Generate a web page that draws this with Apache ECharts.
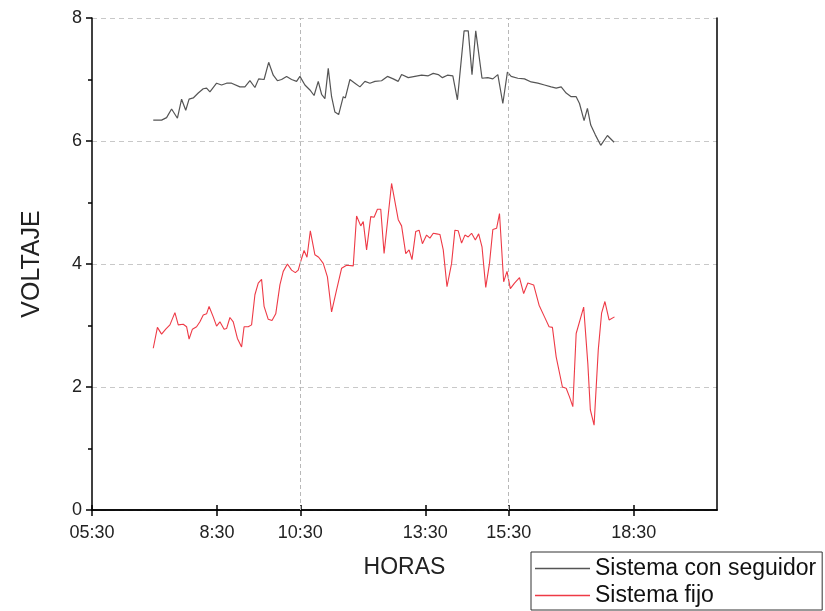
<!DOCTYPE html>
<html>
<head>
<meta charset="utf-8">
<script src="https://cdn.jsdelivr.net/npm/echarts@6/dist/echarts.min.js"></script>
<style>
  html, body { margin: 0; padding: 0; background: #fff; }
  #chart { width: 825px; height: 611px; }
</style>
</head>
<body>
<div id="chart"></div>
<script>
// horas en decimal (7.5 = 7:30)
const seguidorHoras = [6.97,7.17,7.29,7.41,7.55,7.65,7.75,7.83,7.93,8.05,8.17,8.25,8.33,8.49,8.61,8.73,8.85,9.05,9.17,9.29,9.41,9.50,9.63,9.74,9.85,9.95,10.05,10.17,10.29,10.41,10.49,10.61,10.73,10.83,10.93,11.01,11.09,11.17,11.25,11.33,11.42,11.53,11.58,11.69,11.81,11.93,12.05,12.17,12.29,12.45,12.59,12.73,12.85,12.93,13.09,13.25,13.41,13.57,13.69,13.81,13.91,14.03,14.16,14.27,14.43,14.53,14.62,14.71,14.86,15.0,15.12,15.24,15.36,15.47,15.56,15.72,15.88,16.04,16.20,16.36,16.52,16.64,16.76,16.88,17.0,17.12,17.20,17.31,17.39,17.47,17.58,17.71,17.87,18.03]
const seguidorVoltaje = [6.34,6.34,6.38,6.52,6.37,6.68,6.50,6.68,6.70,6.78,6.85,6.86,6.80,6.94,6.91,6.94,6.94,6.88,6.88,6.98,6.87,7.01,7.00,7.28,7.07,6.98,7.00,7.05,7.00,6.97,7.05,6.91,6.83,6.74,6.97,6.76,6.69,7.18,6.72,6.47,6.43,6.72,6.70,7.00,6.94,6.88,6.97,6.94,6.97,6.98,7.05,7.01,6.97,7.08,7.03,7.05,7.07,7.06,7.10,7.08,7.03,7.07,7.06,6.67,7.79,7.79,7.08,7.79,7.02,7.03,7.01,7.08,6.61,7.12,7.05,7.02,7.01,6.96,6.94,6.91,6.88,6.86,6.88,6.78,6.72,6.72,6.61,6.33,6.53,6.26,6.10,5.93,6.09,5.98]

const fijoHoras = [6.97,7.07,7.17,7.27,7.37,7.49,7.57,7.69,7.77,7.83,7.91,8.01,8.09,8.17,8.25,8.31,8.41,8.49,8.57,8.67,8.73,8.81,8.89,8.99,9.09,9.15,9.25,9.33,9.41,9.49,9.57,9.63,9.73,9.82,9.91,10.01,10.09,10.19,10.29,10.38,10.45,10.53,10.59,10.66,10.74,10.85,10.94,11.05,11.15,11.25,11.37,11.49,11.61,11.77,11.85,11.95,12.01,12.09,12.19,12.27,12.35,12.43,12.51,12.69,12.85,12.93,13.03,13.11,13.18,13.27,13.35,13.43,13.53,13.61,13.69,13.77,13.85,13.93,14.02,14.13,14.21,14.29,14.37,14.45,14.53,14.61,14.70,14.78,14.86,14.95,15.04,15.12,15.21,15.28,15.38,15.46,15.54,15.64,15.76,15.86,15.96,16.10,16.23,16.36,16.47,16.55,16.64,16.79,16.88,16.96,17.04,17.12,17.30,17.40,17.46,17.55,17.65,17.73,17.81,17.91,18.04]
const fijoVoltaje = [2.63,2.97,2.86,2.94,3.01,3.21,3.01,3.02,2.98,2.78,2.94,2.98,3.06,3.17,3.19,3.31,3.14,2.99,3.06,2.94,2.95,3.13,3.06,2.79,2.65,2.98,2.98,3.01,3.50,3.69,3.75,3.31,3.10,3.08,3.19,3.66,3.88,4.00,3.90,3.86,3.90,4.09,4.22,4.11,4.54,4.15,4.11,4.01,3.79,3.22,3.58,3.93,3.98,3.97,4.78,4.62,4.69,4.23,4.77,4.76,4.89,4.89,4.17,5.31,4.72,4.62,4.17,4.23,4.07,4.53,4.55,4.33,4.47,4.42,4.50,4.49,4.48,4.23,3.63,4.01,4.55,4.54,4.34,4.47,4.44,4.50,4.39,4.49,4.28,3.62,4.01,4.56,4.58,4.82,3.71,3.88,3.60,3.69,3.78,3.52,3.69,3.66,3.33,3.14,2.98,2.97,2.49,2.00,1.98,1.84,1.68,2.87,3.30,2.38,1.63,1.38,2.60,3.20,3.39,3.09,3.14]

const xTicks = [5.5, 8.5, 10.5, 13.5, 15.5, 18.5]
const xTickLabels = ['05:30', '8:30', '10:30', '13:30', '15:30', '18:30']
const xGridLines = [10.5, 15.5]

const font = 'Liberation Sans, Arial, sans-serif'
const chart = echarts.init(document.getElementById('chart'))

const axisLine = { show: true, lineStyle: { color: '#000', width: 1.5 } }

const option = {
  animation: false,
  textStyle: { fontFamily: font },
  grid: { left: 92, right: 108, top: 18, bottom: 101, containLabel: false },
  legend: {
    orient: 'vertical',
    left: 531,
    top: 552,
    icon: 'rect',
    itemWidth: 55,
    itemHeight: 1.5,
    itemGap: 4,
    padding: [5, 6, 3, 4],
    borderColor: '#333',
    borderWidth: 1,
    backgroundColor: '#fff',
    textStyle: { fontSize: 23, color: '#111', fontFamily: font },
    data: ['Sistema con seguidor', 'Sistema fijo']
  },
  xAxis: [
    {
      type: 'value',
      min: 5.5,
      max: 20.5,
      position: 'bottom',
      axisLine: axisLine,
      axisTick: { customValues: xTicks, length: 6, lineStyle: { color: '#000', width: 1.5 } },
      axisLabel: {
        customValues: xTicks,
        formatter: (v) => xTickLabels[xTicks.indexOf(v)],
        fontSize: 18, color: '#222', margin: 14, fontFamily: font
      },
      splitLine: { show: false },
      name: 'HORAS',
      nameLocation: 'middle',
      nameGap: 46,
      nameTextStyle: { fontSize: 23, color: '#222', fontFamily: font }
    },
    {
      type: 'value',
      min: 5.5,
      max: 20.5,
      position: 'top',
      axisLine: axisLine,
      axisTick: { customValues: xTicks, length: 5, lineStyle: { color: '#000', width: 1.5 } },
      axisLabel: { show: false },
      splitLine: { show: false }
    }
  ],
  yAxis: [
    {
      type: 'value',
      min: 0,
      max: 8,
      interval: 2,
      axisLine: axisLine,
      axisTick: { show: true, length: 6, lineStyle: { color: '#000', width: 1.5 } },
      minorTick: { show: true, splitNumber: 2, length: 4, lineStyle: { color: '#000', width: 1.5 } },
      axisLabel: { fontSize: 18, color: '#222', margin: 10, fontFamily: font },
      splitLine: { show: true, lineStyle: { color: '#c8c8c8', type: [5, 4], width: 1 } },
      name: 'VOLTAJE',
      nameLocation: 'middle',
      nameRotate: 90,
      nameGap: 47,
      nameTextStyle: { fontSize: 25, color: '#222', fontFamily: font }
    },
    {
      type: 'value',
      min: 0,
      max: 8,
      position: 'right',
      axisLine: axisLine,
      axisTick: { show: false },
      axisLabel: { show: false },
      splitLine: { show: false }
    }
  ],
  series: [
    {
      name: 'Sistema con seguidor',
      type: 'line',
      data: seguidorHoras.map((h, i) => [h, seguidorVoltaje[i]]),
      symbol: 'none',
      lineStyle: { color: '#555555', width: 1.2 },
      itemStyle: { color: '#555555' },
      markLine: {
        silent: true,
        symbol: 'none',
        label: { show: false },
        lineStyle: { color: '#b8b8b8', type: [4, 3], width: 1 },
        data: xGridLines.map(v => ({ xAxis: v }))
      }
    },
    {
      name: 'Sistema fijo',
      type: 'line',
      data: fijoHoras.map((h, i) => [h, fijoVoltaje[i]]),
      symbol: 'none',
      lineStyle: { color: '#ee3a46', width: 1.1 },
      itemStyle: { color: '#ee3a46' }
    }
  ]
}

chart.setOption(option)
</script>
</body>
</html>
